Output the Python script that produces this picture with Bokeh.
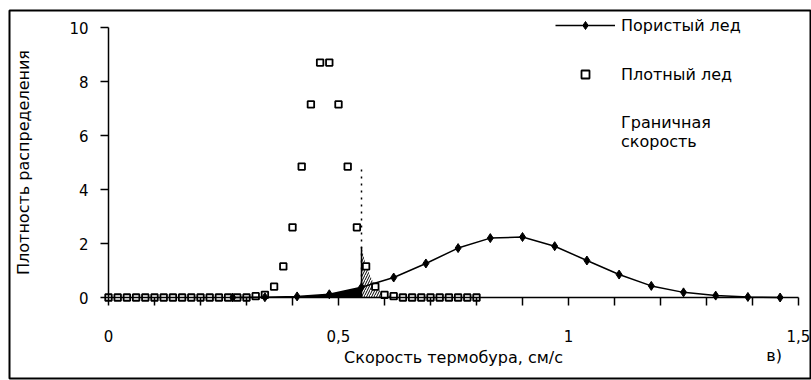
import numpy as np
from bokeh.plotting import figure
from bokeh.models import (Range1d, LinearAxis, FixedTicker, Legend, LegendItem,
                          Label)
from bokeh.embed import file_html
from bokeh.resources import INLINE

# ---- data ----
porous_x = [0.27, 0.34, 0.41, 0.48, 0.55, 0.62, 0.69, 0.76, 0.83, 0.90,
            0.97, 1.04, 1.11, 1.18, 1.25, 1.32, 1.39, 1.46]
porous_y = [0.00, 0.01, 0.04, 0.12, 0.38, 0.74, 1.26, 1.83, 2.20, 2.24,
            1.90, 1.37, 0.85, 0.43, 0.19, 0.07, 0.02, 0.00]

dense_x = [0.00, 0.02, 0.04, 0.06, 0.08, 0.10, 0.12, 0.14, 0.16, 0.18,
           0.20, 0.22, 0.24, 0.26, 0.28, 0.30, 0.32, 0.34, 0.36, 0.38,
           0.40, 0.42, 0.44, 0.46, 0.48, 0.50, 0.52, 0.54, 0.56, 0.58,
           0.60, 0.62, 0.64, 0.66, 0.68, 0.70, 0.72, 0.74, 0.76, 0.78, 0.80]
dense_y = [0, 0, 0, 0, 0, 0, 0, 0, 0, 0,
           0, 0, 0, 0, 0, 0, 0.05, 0.10, 0.40, 1.15,
           2.60, 4.85, 7.15, 8.70, 8.70, 7.15, 4.85, 2.60, 1.15, 0.40,
           0.10, 0.05, 0, 0, 0, 0, 0, 0, 0, 0, 0]

boundary_x = 0.55          # граничная скорость
boundary_top = 4.9

x_ticks = [0, 0.5, 1, 1.5]
x_minor = [0.1, 0.2, 0.3, 0.4, 0.6, 0.7, 0.8, 0.9, 1.1, 1.2, 1.3, 1.4]
x_labels = {0: "0", 0.5: "0,5", 1: "1", 1.5: "1,5"}
y_ticks = [0, 2, 4, 6, 8, 10]

FONT = "DejaVu Sans"
FS_TICK = "15px"
FS = "16px"

# frame = outer box of the chart; axes float inside it
p = figure(width=811, height=380, output_backend="svg", toolbar_location=None,
           x_range=Range1d(-99 / 460, 703 / 460),
           y_range=Range1d(-81 / 27, 287 / 27),
           x_axis_location=None, y_axis_location=None,
           min_border_left=9, min_border_right=0,
           min_border_top=10, min_border_bottom=2)
p.grid.visible = False
p.outline_line_color = "black"
p.outline_line_width = 2
p.background_fill_color = "white"
p.border_fill_color = "white"

# ---- shaded areas ----
px = np.array(porous_x); py = np.array(porous_y)
mask = px <= boundary_x
p.varea(x=px[mask], y1=np.zeros(mask.sum()), y2=py[mask], fill_color="black")

dx = np.array(dense_x); dy = np.array(dense_y)
b_val = float(np.interp(boundary_x, dx, dy))
right = (dx > boundary_x) & (dx <= 0.64)
hx = np.concatenate([[boundary_x], dx[right]])
hy = np.concatenate([[b_val], dy[right]])
p.varea(x=hx, y1=np.zeros(len(hx)), y2=hy, fill_color=None,
        hatch_pattern="/", hatch_color="black", hatch_scale=5, hatch_weight=1)

# ---- boundary ----
p.segment(x0=[boundary_x], y0=[0], x1=[boundary_x], y1=[boundary_top],
          line_color="black", line_width=1.5, line_dash="2 5")
p.segment(x0=[boundary_x], y0=[0], x1=[boundary_x], y1=[b_val],
          line_color="black", line_width=1.5)
proxy = p.scatter(x=[], y=[], marker="dash", size=7, line_color="black",
                  line_width=1.5)

# ---- series ----
ds = p.scatter(dense_x, dense_y, marker="square", size=6.5, fill_color="white",
               line_color="black", line_width=1.8)
pl = p.line(porous_x, porous_y, line_color="black", line_width=1.5)
pm = p.scatter(porous_x, porous_y, marker="diamond", size=9, fill_color="black",
               line_color="black")

# ---- axes ----
xaxis = LinearAxis(fixed_location=0, bounds=(0, 1.5),
                   ticker=FixedTicker(ticks=x_ticks, minor_ticks=x_minor),
                   major_label_overrides=x_labels,
                   axis_label="Скорость термобура, см/с")
yaxis = LinearAxis(fixed_location=0, bounds=(0, 10),
                   ticker=FixedTicker(ticks=y_ticks, minor_ticks=[]),
                   axis_label="Плотность распределения")
for ax in (xaxis, yaxis):
    ax.axis_line_color = "black"; ax.axis_line_width = 1.5
    ax.major_tick_line_color = "black"; ax.major_tick_line_width = 1.5
    ax.minor_tick_line_color = "black"; ax.minor_tick_line_width = 1.5
    ax.major_tick_out = 8; ax.major_tick_in = 0
    ax.minor_tick_out = 8; ax.minor_tick_in = 0
    ax.major_label_text_font = FONT; ax.major_label_text_font_size = FS_TICK
    ax.major_label_text_color = "black"
    ax.axis_label_text_font = FONT; ax.axis_label_text_font_size = FS
    ax.axis_label_text_font_style = "normal"; ax.axis_label_text_color = "black"
xaxis.major_label_standoff = 24
xaxis.axis_label_standoff = 3
yaxis.major_label_standoff = 12
yaxis.axis_label_standoff = 33
p.add_layout(xaxis, "below")
p.add_layout(yaxis, "left")

# ---- legend ----
leg = Legend(items=[LegendItem(label="Пористый лед", renderers=[pl, pm]),
                    LegendItem(label="Плотный лед", renderers=[ds]),
                    LegendItem(label="Граничная\nскорость", renderers=[proxy])],
             location=(546, 227), border_line_color=None,
             background_fill_alpha=0, padding=0, margin=0, spacing=29,
             label_height=20, glyph_height=20, glyph_width=60,
             label_standoff=6, label_text_font=FONT, label_text_font_size=FS,
             label_text_color="black")
p.add_layout(leg)

p.add_layout(Label(x=1.43, y=-2.15, text="в)", text_font=FONT,
                   text_font_size=FS, text_baseline="middle",
                   text_color="black"))

open("out.html", "w").write(file_html(p, INLINE))
